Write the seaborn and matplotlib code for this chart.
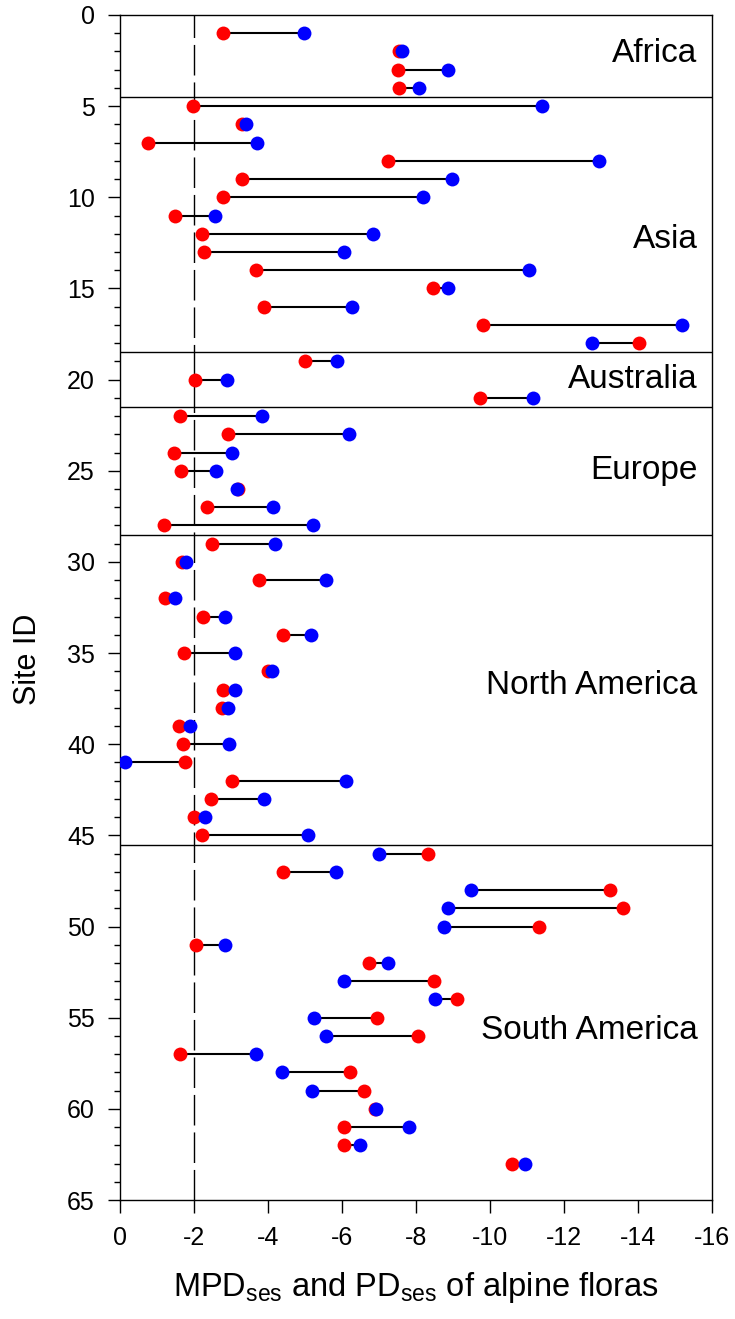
import pandas as pd
import seaborn as sns
import matplotlib.pyplot as plt
from matplotlib.ticker import MultipleLocator

# --- data ---
site_id = list(range(1, 64))

# red dots
mpd_ses = [-2.79, -7.55, -7.51, -7.55, -1.98, -3.30, -0.77, -7.25, -3.30, -2.78,
           -1.50, -2.22, -2.26, -3.69, -8.47, -3.90, -9.82, -14.04, -5.00, -2.03,
           -9.74, -1.61, -2.92, -1.46, -1.64, -3.19, -2.34, -1.20, -2.48, -1.68,
           -3.77, -1.22, -2.25, -4.41, -1.72, -4.00, -2.79, -2.76, -1.59, -1.71,
           -1.76, -3.04, -2.46, -2.01, -2.22, -8.34, -4.40, -13.25, -13.60, -11.34,
           -2.05, -6.74, -8.48, -9.10, -6.96, -8.05, -1.61, -6.22, -6.61, -6.90,
           -6.06, -6.06, -10.61]

# blue dots
pd_ses = [-4.98, -7.63, -8.87, -8.09, -11.42, -3.41, -3.71, -12.94, -8.98, -8.18,
          -2.56, -6.84, -6.07, -11.06, -8.88, -6.26, -15.21, -12.77, -5.86, -2.89,
          -11.16, -3.83, -6.19, -3.04, -2.59, -3.16, -4.14, -5.22, -4.18, -1.78,
          -5.57, -1.48, -2.83, -5.16, -3.12, -4.10, -3.11, -2.92, -1.90, -2.95,
          -0.14, -6.12, -3.90, -2.29, -5.08, -7.00, -5.84, -9.48, -8.86, -8.77,
          -2.83, -7.25, -6.05, -8.51, -5.25, -5.58, -3.69, -4.37, -5.19, -6.93,
          -7.82, -6.50, -10.96]

regions = ['Africa', 'Asia', 'Australia', 'Europe', 'North America', 'South America']
region_label_y = [2.1, 12.3, 20.0, 25.0, 36.8, 55.7]
region_bounds = [4.5, 18.5, 21.5, 28.5, 45.5]
threshold = -2

df = pd.DataFrame({'site': site_id, 'mpd': mpd_ses, 'pd': pd_ses})

sns.set_style('ticks')
plt.rcParams['font.family'] = ['Liberation Sans', 'DejaVu Sans']
plt.rcParams['mathtext.fontset'] = 'custom'
plt.rcParams['mathtext.rm'] = 'Liberation Sans'
plt.rcParams['mathtext.it'] = 'Liberation Sans'
plt.rcParams['axes.unicode_minus'] = False
plt.rcParams['text.color'] = 'black'
plt.rcParams['axes.labelcolor'] = 'black'
plt.rcParams['xtick.color'] = 'black'
plt.rcParams['ytick.color'] = 'black'

fig = plt.figure(figsize=(7.35, 13.19), dpi=100)
ax = fig.add_axes([120 / 735, 1 - 1200 / 1319, 591.7 / 735, 1185 / 1319])

# connecting segments
ax.hlines(df['site'], df['mpd'], df['pd'], color='black', lw=1.5, zorder=2)

sns.scatterplot(data=df, x='mpd', y='site', color='#ff0000', s=100, linewidth=0, ax=ax, zorder=3)
sns.scatterplot(data=df, x='pd', y='site', color='#0000ff', s=100, linewidth=0, ax=ax, zorder=4)

ax.axvline(threshold, color='black', lw=1.0, linestyle=(0, (22, 5)), zorder=1)
for b in region_bounds:
    ax.axhline(b, color='black', lw=1.0, zorder=1)

for name, yy in zip(regions, region_label_y):
    ax.text(-15.62, yy, name, ha='right', va='center', fontsize=24)

ax.set_xlim(0, -16)
ax.set_ylim(65, 0)
ax.xaxis.set_major_locator(MultipleLocator(2))
ax.yaxis.set_major_locator(MultipleLocator(5))
ax.yaxis.set_minor_locator(MultipleLocator(1))
ax.tick_params(axis='both', which='major', length=9, width=1, labelsize=18, direction='out')
ax.tick_params(axis='x', which='major', pad=10)
ax.tick_params(axis='y', which='major', pad=9)
ax.tick_params(axis='y', which='minor', length=4.5, width=1, left=True)
ax.tick_params(axis='x', which='minor', bottom=False)

for sp in ax.spines.values():
    sp.set_color('black')
    sp.set_linewidth(1.0)

ax.set_xlabel(r'MPD$_{\mathrm{ses}}$ and PD$_{\mathrm{ses}}$ of alpine floras', fontsize=23.5, labelpad=14)
ax.set_ylabel('Site ID', fontsize=22)
ax.yaxis.set_label_coords(-0.13, 0.456)

fig.savefig('out.png', dpi=100)
